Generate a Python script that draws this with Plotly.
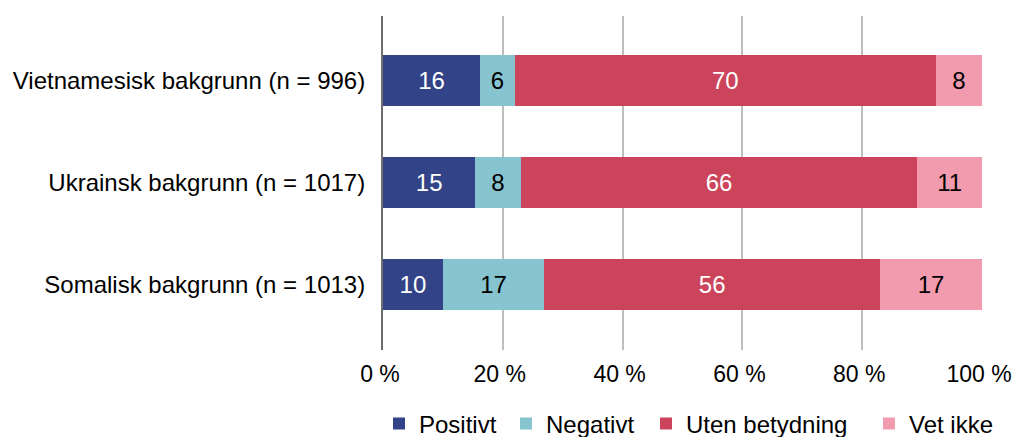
import plotly.graph_objects as go

categories = ["Vietnamesisk bakgrunn (n = 996)", "Ukrainsk bakgrunn (n = 1017)", "Somalisk bakgrunn (n = 1013)"]
series_names = ["Positivt", "Negativt", "Uten betydning", "Vet ikke"]
positivt = [16.2, 15.4, 10.0]
negativt = [5.8, 7.6, 16.9]
uten_betydning = [70.3, 66.2, 56.1]
vet_ikke = [7.7, 10.8, 17.0]
x_ticks = [0, 20, 40, 60, 80, 100]
x_ticktext = ["0 %", "20 %", "40 %", "60 %", "80 %", "100 %"]

colors = ["#334387", "#86C4CF", "#CC445B", "#F39BAE"]
text_colors = ["white", "black", "white", "black"]
FONT = "Liberation Sans, Arial, sans-serif"
FS = 24

W, H = 1014, 437
L, R, T, B = 383, 32, 16, 87
plot_w = W - L - R

def px_to_paper_x(px):
    return (px - L) / plot_w

fig = go.Figure()
all_series = [positivt, negativt, uten_betydning, vet_ikke]
legend_ids = ["legend", "legend2", "legend3", "legend4"]
legend_left_px = [379, 506, 646, 869]
for name, vals, c, tc, lid in zip(series_names, all_series, colors, text_colors, legend_ids):
    fig.add_trace(go.Bar(
        y=categories, x=vals, name=name, orientation="h",
        marker=dict(color=c, line=dict(width=0)),
        texttemplate="%{x:.0f}", textposition="inside",
        insidetextanchor="middle",
        textfont=dict(color=tc, size=FS, family=FONT),
        width=0.5, legend=lid, hoverinfo="skip",
    ))

layout_legends = {}
for lid, lpx in zip(legend_ids, legend_left_px):
    layout_legends[lid] = dict(
        orientation="h", xref="paper", x=px_to_paper_x(lpx), xanchor="left",
        yref="container", y=1 - 424 / H, yanchor="middle",
        font=dict(size=FS, family=FONT, color="black"),
        bgcolor="rgba(0,0,0,0)", borderwidth=0,
    )

fig.update_layout(
    barmode="stack",
    width=W, height=H,
    margin=dict(l=L, r=R, t=T, b=B, autoexpand=False),
    plot_bgcolor="white", paper_bgcolor="white",
    font=dict(family=FONT, size=FS, color="black"),
    showlegend=True,
    **layout_legends,
)
fig.update_xaxes(
    range=[0, 100], tickvals=x_ticks, ticktext=x_ticktext,
    showgrid=True, gridcolor="#BDBDBD", gridwidth=1.5,
    zeroline=False, showline=False,
    ticks="outside", ticklen=3, tickcolor="rgba(0,0,0,0)",
    ticklabeloverflow="allow", ticklabelshift=-3,
    tickfont=dict(size=23, family=FONT, color="black"),
)
fig.update_yaxes(
    categoryorder="array", categoryarray=categories,
    range=[2.637, -0.632],
    showline=True, linecolor="#6E6E6E", linewidth=2,
    showgrid=False, zeroline=False,
    ticks="outside", ticklen=11, tickcolor="rgba(0,0,0,0)",
    tickfont=dict(size=FS, family=FONT, color="black"),
)
fig.write_html("out.html", config={"displayModeBar": False},
               post_script="document.body.style.margin='0';")
